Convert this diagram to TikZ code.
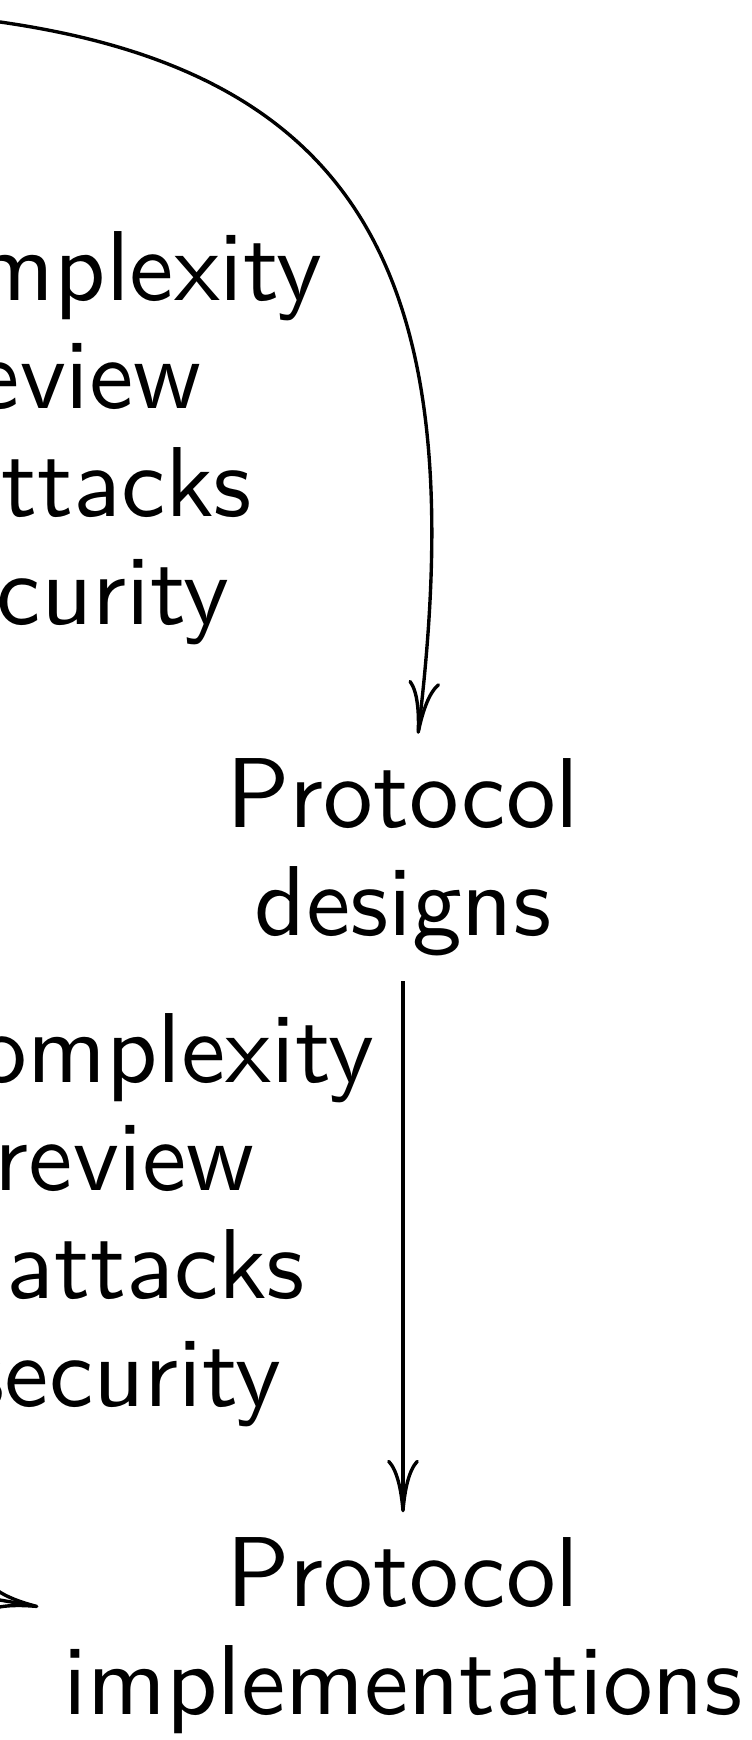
\documentclass[tikz,border=0pt]{standalone}
\usepackage{tikz}
\usetikzlibrary{arrows.meta,positioning}

\begin{document}
\begin{tikzpicture}[
    every node/.style={font=\sffamily\fontsize{10}{10.9}\selectfont},
    arr/.style={line width=0.34pt, -{Computer Modern Rightarrow[length=5.3pt,width=3.2pt]}}
]
    % \draw[help lines] (0,0) grid (3,6);
    \useasboundingbox (0,0) rectangle (2.6556,6.1528);
    \clip (0,0) rectangle (2.6556,6.1528);

    \node[align=center, anchor=base, inner ysep=2.3pt] (pd) at (1.425,2.843) {Protocol\\designs};
    \node[align=center, anchor=base, inner ysep=2.3pt] (pi) at (1.425,0.09) {Protocol\\implementations};

    % text using foreach loop, cut by the left edge
    \foreach \x/\y/\txt [count=\i] in {
        1.1474/5.0919/complexity,
        0.7201/4.7065/review,
        0.8976/4.3246/attacks,
        0.8171/3.9427/security,
        1.3298/2.3232/complexity,
        0.9076/1.9413/review,
        1.0850/1.5594/attacks,
        1.0015/1.1775/security
    } {
        \node[anchor=base east, inner sep=0pt] (lbl\i) at (\x,\y) {\txt};
    }

    \coordinate (src1) at (-0.3536,6.1103);
    \coordinate (src2) at (-1.0608,0.6789);

    \draw[arr] (src1) .. controls (1.2376,6.0113) and (1.6867,5.2687) .. (pd);
    \draw[arr] (pd) -- (pi);
    \draw[arr] (src2) -- ([xshift=1pt,yshift=2.9pt]pi.west);
\end{tikzpicture}
\end{document}
